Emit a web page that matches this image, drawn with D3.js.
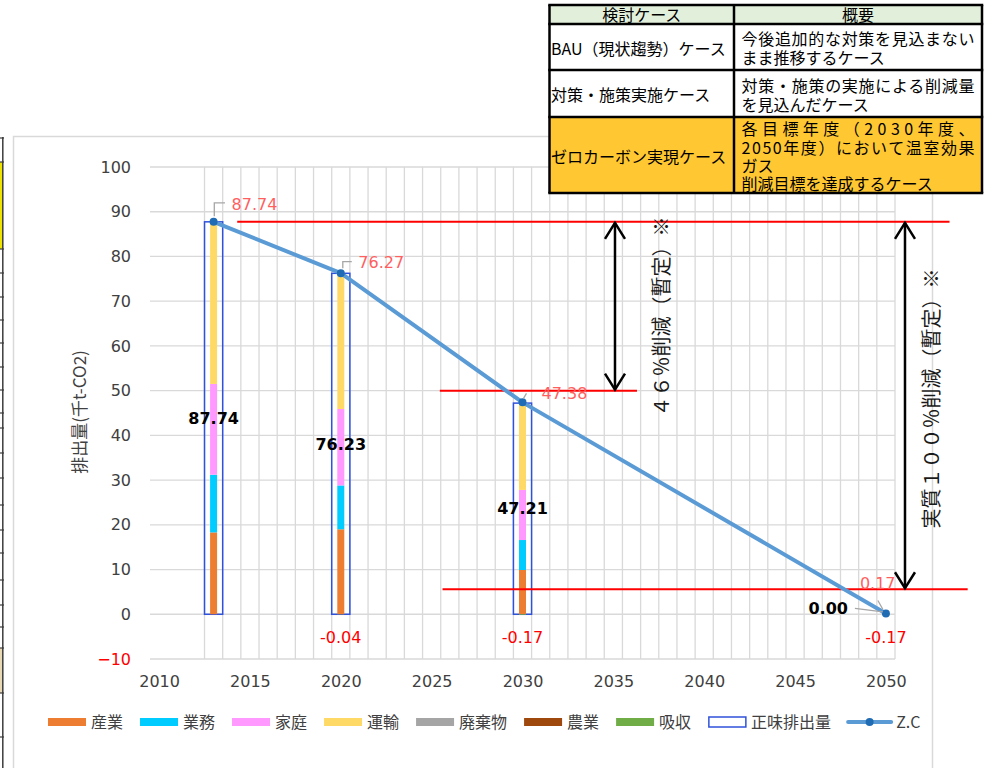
<!DOCTYPE html>
<html><head><meta charset="utf-8">
<script src="https://cdn.jsdelivr.net/npm/d3@7"></script>
<style>body{margin:0;background:#fff}svg{display:block}</style>
</head><body><svg id="c" width="989" height="768"></svg>
<script>
// ---------- data ----------
const years = [2013, 2020, 2030, 2050];
const seriesNames = ["産業", "業務", "家庭", "運輸", "廃棄物", "農業", "吸収"];
const sangyo     = [18.3, 19.0, 9.9, 0.05];
const gyomu      = [12.9, 9.8, 6.7, 0.03];
const katei      = [20.3, 17.1, 11.2, 0.04];
const unyu       = [36.24, 30.37, 19.58, 0.05];
const haikibutsu = [0, 0, 0, 0];
const nogyo      = [0, 0, 0, 0];
const kyushu     = [0, -0.04, -0.17, -0.17];
const netEmission = [87.74, 76.23, 47.21, 0.00];
const zcLine      = [87.74, 76.27, 47.38, 0.17];
const yTicks = [-10, 0, 10, 20, 30, 40, 50, 60, 70, 80, 90, 100];
const xTicks = [2010, 2015, 2020, 2025, 2030, 2035, 2040, 2045, 2050];
const refLevels = [87.74, 50, 5.6];
const legendNames = ["産業", "業務", "家庭", "運輸", "廃棄物", "農業", "吸収", "正味排出量", "Z.C"];
const yTitle = "排出量(千t-CO2)";
const arrowTexts = ["４６％削減（暫定）※", "実質１００％削減（暫定）※"];
const tableHeader = ["検討ケース", "概要"];
const tableCases = ["BAU（現状趨勢）ケース", "対策・施策実施ケース", "ゼロカーボン実現ケース"];
const tableDescriptions = [
  ["今後追加的な対策を見込まない", "まま推移するケース"],
  ["対策・施策の実施による削減量", "を見込んだケース"],
  ["各目標年度（2030年度、", "2050年度）において温室効果", "ガス", "削減目標を達成するケース"]
];

// ---------- styles / layout ----------
const seriesValues = [sangyo, gyomu, katei, unyu, haikibutsu, nogyo, kyushu];
const colors = {"産業":"#ED7D31","業務":"#00CCFF","家庭":"#FF99FF","運輸":"#FFD966","廃棄物":"#A5A5A5","農業":"#9E480E","吸収":"#70AD47"};
const netColor = "#2F52DC", zcColor = "#5B9BD5", zcMarker = "#1F6CB4";
const NUMF = "'DejaVu Sans', Verdana, sans-serif";
const JPF = "'Noto Sans CJK JP', 'Noto Sans', sans-serif";
const gridColor = "#D9D9D9";

const svg = d3.select("#c");
svg.append("rect").attr("width", 989).attr("height", 768).attr("fill", "#fff");

// spreadsheet edge on the left
const edge = svg.append("g");
edge.append("rect").attr("x", 0).attr("y", 162).attr("width", 2.5).attr("height", 87).attr("fill", "#EFE400");
edge.append("rect").attr("x", 0).attr("y", 648).attr("width", 2.5).attr("height", 45).attr("fill", "#E9D9B5");
edge.append("line").attr("x1", 2.8).attr("x2", 2.8).attr("y1", 137).attr("y2", 768).attr("stroke", "#3c3c3c").attr("stroke-width", 1.5);
edge.selectAll("line.t").data([138,162,249,273,297,320,343,367,390,413,428,453,478,505,530,553,580,605,627,648,693,737]).join("line")
  .attr("class","t").attr("x1",0).attr("x2",4).attr("y1",d=>d).attr("y2",d=>d).attr("stroke","#3c3c3c").attr("stroke-width",1.2);

// chart area border
svg.append("rect").attr("x", 13.5).attr("y", 136.5).attr("width", 919).attr("height", 660)
  .attr("fill", "#fff").attr("stroke", "#D9D9D9").attr("stroke-width", 1.5);

const x = d3.scaleLinear().domain([2009.5, 2050.5]).range([150, 895]);
const y = d3.scaleLinear().domain([-10, 100]).range([659, 167]);

// gridlines
const grid = svg.append("g");
grid.selectAll("line.h").data(yTicks).join("line").attr("class","h")
  .attr("x1", x(2009.5)).attr("x2", x(2050.5)).attr("y1", d=>y(d)).attr("y2", d=>y(d))
  .attr("stroke", gridColor).attr("stroke-width", 1.3);
grid.selectAll("line.v").data(d3.range(2012.5, 2050.6, 1)).join("line").attr("class","v")
  .attr("x1", d=>x(d)).attr("x2", d=>x(d)).attr("y1", y(100)).attr("y2", y(-10))
  .attr("stroke", gridColor).attr("stroke-width", 1.3);

// axes
const yAxis = d3.axisLeft(y).tickValues(yTicks).tickSize(0).tickPadding(19);
svg.append("g").attr("transform", `translate(${x(2009.5)},0)`).call(yAxis)
  .call(g => g.select(".domain").remove())
  .selectAll("text").attr("font-family", NUMF).attr("font-size", 16)
  .attr("fill", d => d < 0 ? "#FF0000" : "#404040");
const xAxis = d3.axisBottom(x).tickValues(xTicks).tickFormat(d3.format("d")).tickSize(0).tickPadding(17);
svg.append("g").attr("transform", `translate(0,${y(-10)})`).call(xAxis)
  .call(g => g.select(".domain").remove())
  .selectAll("text").attr("font-family", NUMF).attr("font-size", 16).attr("fill", "#404040");

svg.append("text").attr("transform", `translate(80,412) rotate(-90)`)
  .attr("text-anchor", "middle").attr("dy", "0.35em")
  .attr("font-family", JPF).attr("font-size", 17).attr("fill", "#404040").text(yTitle);

// net emission outline bars
const rows = years.map((yr, i) => {
  const r = {year: yr};
  seriesNames.forEach((s, j) => r[s] = seriesValues[j][i]);
  return r;
});
svg.append("g").selectAll("rect").data(years.map((yr,i)=>({year:yr, v:netEmission[i]})).filter(d=>d.v>0)).join("rect")
  .attr("x", d => x(d.year - 0.5)).attr("width", d => x(d.year + 0.5) - x(d.year - 0.5))
  .attr("y", d => y(d.v)).attr("height", d => y(0) - y(d.v))
  .attr("fill", "none").attr("stroke", netColor).attr("stroke-width", 1.5);

// stacked bars
const stacked = d3.stack().keys(seriesNames).offset(d3.stackOffsetDiverging)(rows);
const barW = 7;
svg.append("g").selectAll("g").data(stacked).join("g").attr("fill", d => colors[d.key])
  .selectAll("rect").data(d => d).join("rect")
  .attr("x", d => x(d.data.year) - barW / 2).attr("width", barW)
  .attr("y", d => y(Math.max(d[0], d[1]))).attr("height", d => Math.abs(y(d[0]) - y(d[1])));

// red reference lines
const refExtents = [[2014.3, 2053.5], [2025.45, 2036.3], [2025.6, 2054.5]];
svg.append("g").selectAll("line").data(refLevels).join("line")
  .attr("x1", (d,i) => x(refExtents[i][0])).attr("x2", (d,i) => x(refExtents[i][1]))
  .attr("y1", d => y(d)).attr("y2", d => y(d)).attr("stroke", "#FF0000").attr("stroke-width", 2);

// Z.C line
const zcData = years.map((yr, i) => ({year: yr, v: zcLine[i]}));
svg.append("path").datum(zcData)
  .attr("d", d3.line().x(d => x(d.year)).y(d => y(d.v)))
  .attr("fill", "none").attr("stroke", zcColor).attr("stroke-width", 4).attr("stroke-linecap", "round").attr("stroke-linejoin", "round");
svg.append("g").selectAll("circle").data(zcData).join("circle")
  .attr("cx", d => x(d.year)).attr("cy", d => y(d.v)).attr("r", 4).attr("fill", zcMarker);

// Z.C labels with leader lines
const zcLabelOff = [[18, -18], [17.5, -11], [19, -9.5], [-26, -30]];
const zcLeaders = [[[0.7,-5.5],[0.7,-19],[11.4,-19]], [[2,-5],[2,-11.6],[11,-11.6]], [[1,-4],[4,-9]], [[-3,-4],[-8,-13]]];
const lbl = svg.append("g");
zcData.forEach((d, i) => {
  const px = x(d.year), py = y(d.v);
  lbl.append("path").attr("d", d3.line()(zcLeaders[i].map(p => [px + p[0], py + p[1]])))
    .attr("fill", "none").attr("stroke", "#A6A6A6").attr("stroke-width", 1.3);
  lbl.append("text").attr("x", px + zcLabelOff[i][0]).attr("y", py + zcLabelOff[i][1]).attr("dy", "0.36em")
    .attr("font-family", NUMF).attr("font-size", 16).attr("fill", "#FF5F5F").text(d.v.toFixed(2));
});

// net labels
years.forEach((yr, i) => {
  const v = netEmission[i];
  if (v > 0) {
    lbl.append("text").attr("x", x(yr)).attr("y", y(v / 2)).attr("dy", "0.36em").attr("text-anchor", "middle")
      .attr("font-family", NUMF).attr("font-size", 16).attr("font-weight", "bold").attr("fill", "#000").text(v.toFixed(2));
  } else {
    lbl.append("path").attr("d", d3.line()([[x(yr) - 31, y(0) - 6], [x(yr) - 3, y(0) - 2.5]]))
      .attr("fill", "none").attr("stroke", "#A6A6A6").attr("stroke-width", 1.3);
    lbl.append("text").attr("x", x(yr) - 38).attr("y", y(0) - 6).attr("dy", "0.36em").attr("text-anchor", "end")
      .attr("font-family", NUMF).attr("font-size", 16).attr("font-weight", "bold").attr("fill", "#000").text(v.toFixed(2));
  }
});
// absorption labels
years.forEach((yr, i) => {
  if (kyushu[i] < 0) {
    lbl.append("text").attr("x", x(yr)).attr("y", y(0) + 23).attr("dy", "0.36em").attr("text-anchor", "middle")
      .attr("font-family", NUMF).attr("font-size", 16).attr("fill", "#FF0000").text(kyushu[i].toFixed(2));
  }
});

// arrows
const arrowDefs = [
  {year: 2035.09, from: refLevels[0], to: refLevels[1], tdx: 46.7, ty: 316.5},
  {year: 2051.05, from: refLevels[0], to: refLevels[2], tdx: 26.7, ty: 398.5}
];
const arr = svg.append("g");
arrowDefs.forEach((a, i) => {
  const ax = x(a.year), y1 = y(a.from), y2 = y(a.to);
  arr.append("line").attr("x1", ax).attr("x2", ax).attr("y1", y1 + 1).attr("y2", y2 - 1)
    .attr("stroke", "#000").attr("stroke-width", 2.5);
  arr.append("path").attr("d", `M${ax-10},${y1+17}L${ax},${y1+1}L${ax+10},${y1+17}`)
    .attr("fill", "none").attr("stroke", "#000").attr("stroke-width", 2.5);
  arr.append("path").attr("d", `M${ax-10},${y2-17}L${ax},${y2-1}L${ax+10},${y2-17}`)
    .attr("fill", "none").attr("stroke", "#000").attr("stroke-width", 2.5);
  arr.append("text").attr("transform", `translate(${ax + a.tdx},${a.ty}) rotate(-90)`)
    .attr("text-anchor", "middle").attr("dy", "0.35em")
    .attr("font-family", JPF).attr("font-size", 20).attr("fill", "#1a1a1a").text(arrowTexts[i]);
});

// legend
const leg = svg.append("g");
let lx = 48;
const ly = 722;
legendNames.forEach((name, i) => {
  if (i < 7) {
    leg.append("rect").attr("x", lx).attr("y", ly - 4).attr("width", 38).attr("height", 8).attr("fill", colors[name]);
    lx += 38;
  } else if (name === "正味排出量") {
    leg.append("rect").attr("x", lx + 0.75).attr("y", ly - 5).attr("width", 37).attr("height", 10)
      .attr("fill", "#fff").attr("stroke", netColor).attr("stroke-width", 1.5);
    lx += 38;
  } else {
    leg.append("line").attr("x1", lx).attr("x2", lx + 43).attr("y1", ly).attr("y2", ly)
      .attr("stroke", zcColor).attr("stroke-width", 4).attr("stroke-linecap", "round");
    leg.append("circle").attr("cx", lx + 21.5).attr("cy", ly).attr("r", 4).attr("fill", zcMarker);
    lx += 43;
  }
  lx += 5;
  const t = leg.append("text").attr("x", lx).attr("y", ly).attr("dy", "0.36em")
    .attr("font-family", JPF).attr("font-size", 16).attr("fill", "#404040").text(name);
  lx += t.node().getComputedTextLength() + 17;
});

// table
const tb = svg.append("g");
const colX = [549.5, 734, 982];
const rowY = [5, 24, 70, 117, 193];
const rowFill = ["#E2EFDA", "#FFFFFF", "#FFFFFF", "#FFC732"];
for (let r = 0; r < 4; r++) {
  tb.append("rect").attr("x", colX[0]).attr("y", rowY[r]).attr("width", colX[2] - colX[0]).attr("height", rowY[r+1] - rowY[r])
    .attr("fill", rowFill[r]);
}
tableHeader.forEach((h, c) => {
  tb.append("text").attr("x", (colX[c] + colX[c+1]) / 2).attr("y", (rowY[0] + rowY[1]) / 2 + 1).attr("dy", "0.36em")
    .attr("text-anchor", "middle").attr("font-family", JPF).attr("font-size", 16).attr("fill", "#000").text(h);
});
tableCases.forEach((t, r) => {
  const mid = (rowY[r+1] + rowY[r+2]) / 2 + 2;
  tb.append("text").attr("x", colX[0] + 1.5).attr("y", mid).attr("dy", "0.36em")
    .attr("font-family", JPF).attr("font-size", 16).attr("fill", "#000").text(t);
  const lines = tableDescriptions[r];
  const lh = lines.length > 2 ? 18.4 : 19;
  lines.forEach((ln, k) => {
    const ty = mid + (k - (lines.length - 1) / 2) * lh;
    const tt = tb.append("text").attr("x", colX[1] + 7.5).attr("y", ty).attr("dy", "0.36em")
      .attr("font-family", JPF).attr("font-size", 16).attr("fill", "#000").text(ln);
    if (k < lines.length - 1 && ln.length > 10) tt.attr("textLength", 233).attr("lengthAdjust", "spacing");
  });
});
rowY.forEach(ry => tb.append("line").attr("x1", colX[0]).attr("x2", colX[2]).attr("y1", ry).attr("y2", ry)
  .attr("stroke", "#000").attr("stroke-width", 2.5).attr("stroke-linecap", "square"));
colX.forEach(cx => tb.append("line").attr("x1", cx).attr("x2", cx).attr("y1", rowY[0]).attr("y2", rowY[4])
  .attr("stroke", "#000").attr("stroke-width", 2.5));
</script></body></html>
